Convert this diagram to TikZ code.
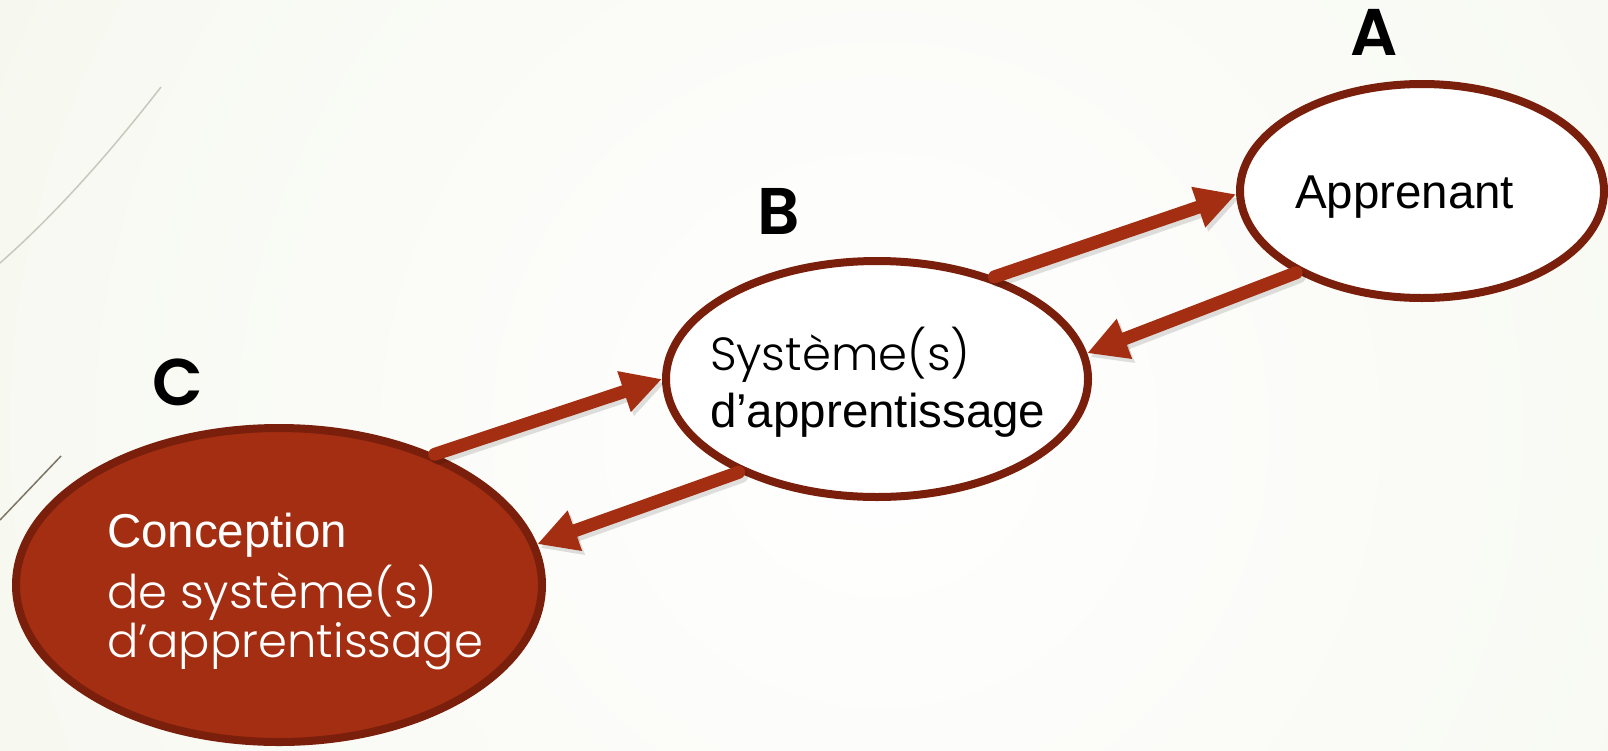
\documentclass[tikz,border=0pt]{standalone}
\usepackage{fontspec}
\setmainfont{Liberation Sans}
\newfontfamily\gothicL{Poppins Light}
\newfontfamily\gothicB{Poppins SemiBold}
\usetikzlibrary{shapes.geometric,arrows.meta}
\definecolor{rust}{RGB}{164,46,17}
\definecolor{rustdark}{RGB}{121,31,12}
\definecolor{bgout}{RGB}{237,241,224}
\definecolor{wispA}{RGB}{200,200,188}
\definecolor{wispB}{RGB}{125,117,102}
\tikzset{
  bubble/.style={ellipse, draw=rustdark, line width=8pt, inner sep=0pt, outer sep=4pt},
  link/.style={rust, line width=13pt, line cap=round, -{Triangle[length=40pt,width=40pt]}},
  linkshadow/.style={black, opacity=0.12, line width=13pt, line cap=round, -{Triangle[length=40pt,width=40pt]}, transform canvas={shift={(3pt,-4pt)}}},
  txt/.style={anchor=base west, inner sep=0pt, outer sep=0pt},
  arialtxt/.style={txt, font=\fontsize{47.5}{50}\selectfont},
  gothtxt/.style={txt, font=\gothicL\fontsize{46.5}{50}\selectfont},
  letter/.style={anchor=base west, inner sep=0pt, font=\gothicB\fontsize{66}{70}\selectfont},
}
\begin{document}
\begin{tikzpicture}[x=1pt,y=-1pt]
\useasboundingbox (0,0) rectangle (1608,750);
\begin{scope}
  \clip (0,0) rectangle (1608,750);
  \shade[inner color=white, outer color=bgout] (880,430) circle (2000pt);
\end{scope}
% decorative lines
\draw[wispA, line width=1.5pt] (161,87) .. controls (112,150) and (58,212) .. (0,263);
\draw[wispB, line width=1.5pt] (61,456) -- (0,520);
% bubbles
\node[bubble, fill=white, minimum width=364pt, minimum height=214pt] (A) at (1422,191) {};
\node[bubble, fill=white, minimum width=422pt, minimum height=236pt] (B) at (877,379) {};
\node[bubble, fill=rust, minimum width=526pt, minimum height=314pt] (C) at (279,585) {};
% arrow shadows
\draw[linkshadow] (B.41) -- (A.181);
\draw[linkshadow] (A.213) -- (B.7);
\draw[linkshadow] (C.40) -- (B.180);
\draw[linkshadow] (B.214) -- (C.9);
% arrows
\draw[link] (B.41) -- (A.181);
\draw[link] (A.213) -- (B.7);
\draw[link] (C.40) -- (B.180);
\draw[link] (B.214) -- (C.9);
% texts
\node[arialtxt] (atx) at (1295,208) {Apprenant};
\node[gothtxt] (bt1) at (710,370) {Système(s)};
\node[arialtxt] (bt2) at (710,427) {d’apprentissage};
\node[arialtxt, white] (ct1) at (107,547) {Conception};
\node[gothtxt, white] (ct2) at (107,608) {de système(s)};
\node[gothtxt, white] (ct3) at (107,657) {d’apprentissage};
% letters
\node[letter] (la) at (1350,55) {A};
\node[letter] (lb) at (757,234) {B};
\node[letter] (lc) at (152,405) {C};
\end{tikzpicture}
\end{document}
